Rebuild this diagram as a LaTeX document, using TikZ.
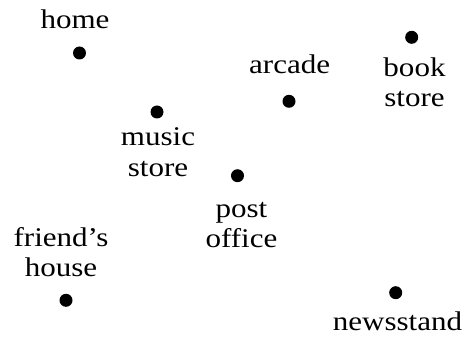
\documentclass[tikz,border=0pt]{standalone}
\usepackage{fontspec}
\setmainfont{Liberation Serif}[FakeStretch=1.15]
\begin{document}
\begin{tikzpicture}[x=1pt,y=-1pt,
  dot/.style={circle,fill=black,inner sep=0pt,minimum size=13pt},
  lbl/.style={inner sep=0pt,align=center,anchor=base,font=\fontsize{27}{30.5}\selectfont}]
\useasboundingbox (0,0) rectangle (464,337);
\node[dot] (home) at (79.5,53) {};
\node[dot] (arcade) at (289,101.3) {};
\node[dot] (book) at (411.7,37.3) {};
\node[dot] (music) at (157,112) {};
\node[dot] (post) at (237.5,175.7) {};
\node[dot] (friend) at (66,300.3) {};
\node[dot] (news) at (395.7,292.7) {};
\node[lbl] (homeL) at (75,29) {home};
\node[lbl] (arcadeL) at (289.7,74) {arcade};
\node[lbl] (bookL) at (414.5,107) {book\\store};
\node[lbl] (musicL) at (158,176) {music\\store};
\node[lbl] (postL) at (241.5,247.5) {post\\office};
\node[lbl] (friendL) at (61,276.7) {friend’s\\house};
\node[lbl] (newsL) at (397.5,330) {newsstand};
\end{tikzpicture}
\end{document}
